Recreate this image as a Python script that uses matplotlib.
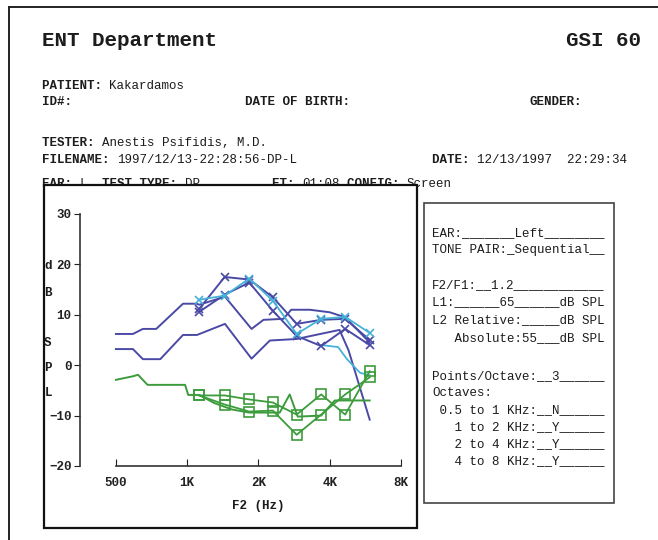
import matplotlib
matplotlib.use("Agg")
import matplotlib.pyplot as plt
from matplotlib.patches import Rectangle
from matplotlib.lines import Line2D

plt.rcParams['font.family'] = ['Liberation Mono', 'DejaVu Sans Mono']

W, H = 658, 540

# DP-gram frequencies (3 points / octave)
f_dp = [1125, 1440, 1830, 2300, 2900, 3680, 4650, 5900]
dp_a = [11.2, 17.5, 17.0, 13.5, 8.2, 9.0, 9.2, 5.0]
dp_b = [10.6, 14.0, 16.4, 10.8, 5.8, 3.8, 7.2, 4.0]
dp_c = [13.0, 13.8, 17.2, 12.8, 6.2, 9.2, 9.6, 6.4]

# noise floor with markers
noise_a = [-6.0, -6.0, -6.8, -7.4, -9.8, -5.8, -9.8, -1.2]
noise_b = [-6.0, -7.8, -9.2, -9.0, -13.8, -9.8, -5.8, -2.4]

# normative lines (no markers)
f_up = [500, 590, 650, 740, 960, 1095, 1125, 1444, 1870, 2100, 2550, 2750, 3300, 4000, 4650, 5900]
v_up = [6.2, 6.2, 7.2, 7.2, 12.2, 12.2, 12.0, 13.6, 7.2, 9.0, 9.2, 11.0, 11.0, 10.5, 9.5, 4.5]
f_lo = [500, 590, 650, 770, 960, 1100, 1444, 1870, 2235, 2900, 3650, 4400, 4800, 5900]
v_lo = [3.2, 3.2, 1.2, 1.2, 6.0, 6.0, 8.2, 1.3, 4.9, 5.2, 6.2, 7.0, 3.0, -10.8]
f_tail = [3680, 4340, 4730, 5370, 5900]
v_tail = [4.0, 3.6, 1.2, -1.5, -2.0]
f_nf = [500, 590, 620, 680, 980, 1010, 1125, 1300, 1550, 1830, 2460, 2710, 2930, 3680, 4200, 5900]
v_nf = [-2.9, -2.2, -1.9, -3.9, -3.9, -5.9, -5.9, -7.5, -8.8, -9.4, -9.4, -5.8, -10.2, -10.0, -7.0, -7.0]

x_ticks = [500, 1000, 2000, 4000, 8000]
x_labels = ['500', '1K', '2K', '4K', '8K']
y_ticks = [-20, -10, 0, 10, 20, 30]

header = [
    (42, 86, 'PATIENT: ', 'Kakardamos'),
    (42, 102, 'ID#:', ''),
    (245, 102, 'DATE OF BIRTH:', ''),
    (530, 102, 'GENDER:', ''),
    (42, 143, 'TESTER: ', 'Anestis Psifidis, M.D.'),
    (42, 160, 'FILENAME: ', '1997/12/13-22:28:56-DP-L'),
    (432, 160, 'DATE: ', '12/13/1997  22:29:34'),
]

side_lines = [
    (233, 'EAR:_______Left________'),
    (250, 'TONE PAIR:_Sequential__'),
    (285, 'F2/F1:__1.2____________'),
    (302, 'L1:______65______dB SPL'),
    (320, 'L2 Relative:_____dB SPL'),
    (338, '   Absolute:55___dB SPL'),
    (376, 'Points/Octave:__3______'),
    (393, 'Octaves:'),
    (410, ' 0.5 to 1 KHz:__N______'),
    (427, '   1 to 2 KHz:__Y______'),
    (444, '   2 to 4 KHz:__Y______'),
    (461, '   4 to 8 KHz:__Y______'),
]

navy = '#4a4aa6'
cyan = '#46b2d8'
green = '#3c9c3c'
ink = '#1c1c1c'
CW = 0.6 * 9 * 100 / 72   # advance of one mono character at 9 pt


def px(x):
    return x / W


def py(y):
    return 1 - y / H


def field(x, y, label, value, size=9, z=3):
    cw = 0.6 * size * 100 / 72
    fig.text(px(x), py(y), label, fontsize=size, weight='bold', color=ink,
             va='center', zorder=z)
    if value:
        fig.text(px(x + len(label) * cw), py(y), value, fontsize=size,
                 color=ink, va='center', zorder=z)


fig = plt.figure(figsize=(W / 100, H / 100), dpi=100)

# page border
fig.add_artist(Line2D([px(9), px(9)], [py(7), py(540)], color='#222', lw=1.4))
fig.add_artist(Line2D([px(9), px(658)], [py(7), py(7)], color='#222', lw=1.4))

fig.text(px(42), py(40), 'ENT Department', fontsize=15, weight='bold',
         color=ink, va='center')
fig.text(px(641), py(40), 'GSI 60', fontsize=15, weight='bold',
         color=ink, va='center', ha='right')

for x, y, lab, val in header:
    field(x, y, lab, val)

# this line is partly hidden by the chart box
field(42, 184, 'EAR: ', 'L', z=-2)
field(42 + 8 * CW, 184, 'TEST TYPE: ', 'DP', z=-2)
field(272, 184, 'ET: ', '01:08', z=-2)
field(272 + 10 * CW, 184, 'CONFIG: ', 'Screen', z=-2)

# chart frame
fig.add_artist(Rectangle((px(44), py(528)), (417 - 44) / W, (528 - 185) / H,
                         transform=fig.transFigure, fc='white', ec='#111',
                         lw=1.6, zorder=-1))
# settings frame
fig.add_artist(Rectangle((px(424), py(503)), (614 - 424) / W, (503 - 203) / H,
                         transform=fig.transFigure, fill=False, ec='#444',
                         lw=1.2))
for y, s in side_lines:
    fig.text(px(432), py(y), s, fontsize=9, color=ink, va='center')

ax = fig.add_axes([px(80), py(466), (401 - 80) / W, (466 - 214) / H])
ax.patch.set_alpha(0)
ax.set_xscale('log', base=2)
ax.set_xlim(352.6, 8000)
ax.set_ylim(-20, 30)

ax.plot(f_up, v_up, color=navy, lw=1.4)
ax.plot(f_lo, v_lo, color=navy, lw=1.4)
ax.plot(f_tail, v_tail, color=cyan, lw=1.3)
ax.plot(f_nf, v_nf, color=green, lw=1.4)
ax.plot(f_dp, dp_a, color=navy, lw=1.4, marker='x', ms=6, mew=1.2)
ax.plot(f_dp, dp_b, color=navy, lw=1.4, marker='x', ms=6, mew=1.2)
ax.plot(f_dp, dp_c, color=cyan, lw=1.3, marker='x', ms=6, mew=1.2)
ax.plot(f_dp, noise_a, color=green, lw=1.3, marker='s', ms=7.5, mew=1.2,
        mfc='none')
ax.plot(f_dp, noise_b, color=green, lw=1.3, marker='s', ms=7.5, mew=1.2,
        mfc='none')

for side in ['top', 'right']:
    ax.spines[side].set_visible(False)
ax.spines['left'].set_bounds(-20, 30)
ax.spines['bottom'].set_bounds(500, 8000)
for side in ['left', 'bottom']:
    ax.spines[side].set_color('#333')
    ax.spines[side].set_linewidth(1.2)

ax.set_xticks(x_ticks)
ax.set_xticklabels(x_labels)
ax.minorticks_off()
ax.set_yticks(y_ticks)
ax.tick_params(axis='x', direction='in', length=5, pad=8, labelsize=9,
               colors='#222')
ax.tick_params(axis='y', direction='out', length=4, pad=2, labelsize=9,
               colors='#222')
for t in ax.get_xticklabels() + ax.get_yticklabels():
    t.set_fontweight('bold')

ax.set_xlabel('F2 (Hz)', fontsize=9, weight='bold', color=ink)
ax.xaxis.set_label_coords((258 - 80) / 321, -(506 - 466) / 252)
ax.xaxis.label.set_va('center')

# vertical "dB SPL" label, one letter per row
for y, ch in [(266, 'd'), (293, 'B'), (343, 'S'), (368, 'P'), (393, 'L')]:
    fig.text(px(48), py(y), ch, fontsize=9, weight='bold', color=ink,
             va='center', ha='center')

fig.savefig('out.png', dpi=100)
